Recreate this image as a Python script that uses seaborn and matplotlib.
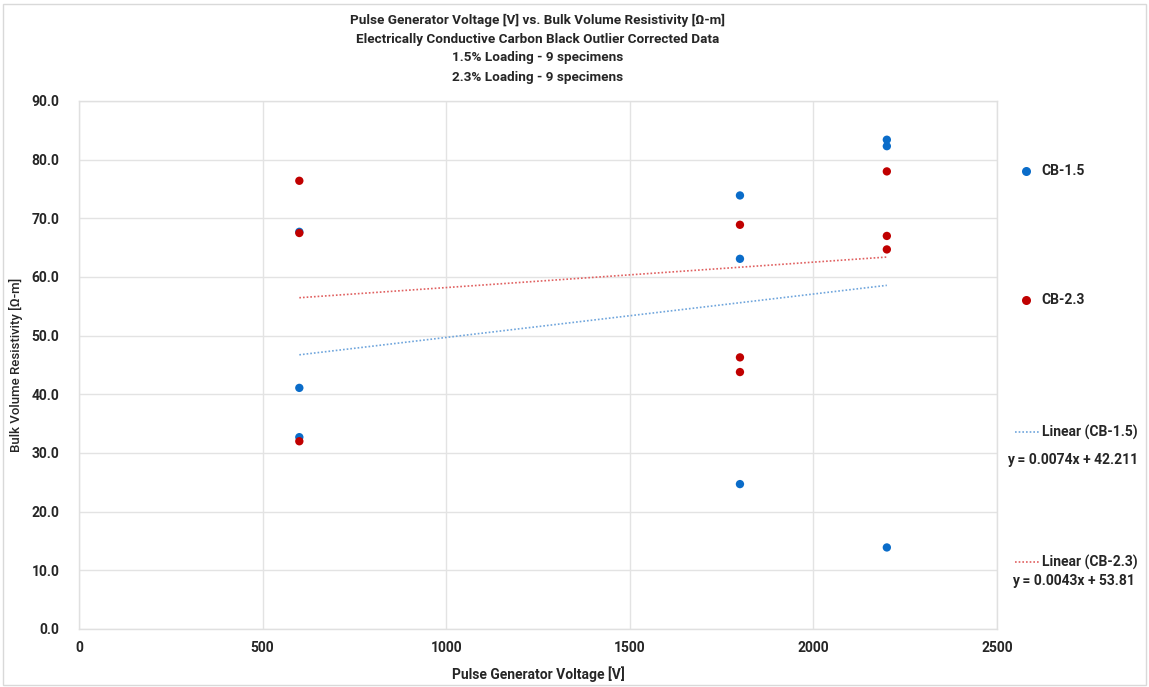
import numpy as np
import pandas as pd
import matplotlib
matplotlib.use("Agg")
import matplotlib.pyplot as plt
from matplotlib.lines import Line2D
from matplotlib.patches import Rectangle
import seaborn as sns

# ---- data ----
voltage_15 = [600, 600, 600, 1800, 1800, 1800, 2200, 2200, 2200]
resist_15 = [67.7, 41.1, 32.7, 73.9, 63.1, 24.7, 83.4, 82.3, 13.9]
voltage_23 = [600, 600, 600, 1800, 1800, 1800, 2200, 2200, 2200]
resist_23 = [76.4, 67.5, 32.0, 68.9, 46.3, 43.8, 78.0, 67.0, 64.7]
series_names = ["CB-1.5", "CB-2.3"]
trend_labels = ["Linear (CB-1.5)", "Linear (CB-2.3)"]
equations = ["y = 0.0074x + 42.211", "y = 0.0043x + 53.81"]
title_lines = [
    "Pulse Generator Voltage [V] vs. Bulk Volume Resistivity [\u03a9-m]",
    "Electrically Conductive Carbon Black Outlier Corrected Data",
    "1.5% Loading - 9 specimens",
    "2.3% Loading - 9 specimens",
]
x_ticks = [0, 500, 1000, 1500, 2000, 2500]
y_ticks = [0, 10, 20, 30, 40, 50, 60, 70, 80, 90]

df = pd.DataFrame({
    "V": voltage_15 + voltage_23,
    "R": resist_15 + resist_23,
    "S": [series_names[0]] * len(voltage_15) + [series_names[1]] * len(voltage_23),
})

# ---- style ----
sns.set_theme(style="white")
plt.rcParams["font.family"] = ["Roboto", "DejaVu Sans"]

marker_colors = {"CB-1.5": "#0A6CC9", "CB-2.3": "#C00000"}
trend_colors = {"CB-1.5": "#6FA5DC", "CB-2.3": "#E06060"}
txt = "#262626"

W, H = 1149, 687
fig = plt.figure(figsize=(W / 100, H / 100), dpi=100)
L, R, T, B = 79, 997, 101, 629
ax = fig.add_axes([L / W, 1 - B / H, (R - L) / W, (B - T) / H])

# trend lines
for name, (xs, ys) in zip(series_names, [(voltage_15, resist_15), (voltage_23, resist_23)]):
    sns.regplot(x=np.array(xs), y=np.array(ys), ax=ax, scatter=False, ci=None,
                truncate=True, line_kws=dict(color=trend_colors[name], lw=1.2,
                                             ls=(0, (1, 1.2))))

sns.scatterplot(data=df, x="V", y="R", hue="S", palette=marker_colors, ax=ax,
                s=36, edgecolor="none", legend=False, zorder=3)

ax.set_xlim(0, 2500)
ax.set_ylim(0, 90)
ax.set_xticks(x_ticks)
ax.set_yticks(y_ticks)
ax.set_xticklabels([str(t) for t in x_ticks], fontsize=10, fontweight="bold", color=txt)
ax.set_yticklabels([f"{t:.1f}" for t in y_ticks], fontsize=10, fontweight="bold", color=txt)
ax.tick_params(axis="both", length=0)
ax.tick_params(axis="x", pad=9)
ax.tick_params(axis="y", pad=14)
ax.grid(True, color="#E3E3E3", lw=1)
for sp in ax.spines.values():
    sp.set_color("#E0E0E0")
    sp.set_linewidth(1)
ax.set_xlabel("Pulse Generator Voltage [V]", fontsize=10, fontweight="bold", color=txt, labelpad=8)
ax.set_ylabel("Bulk Volume Resistivity [\u03a9-m]", fontsize=9.5, fontweight="medium", color=txt, labelpad=6)

# title
cx = (L + R) / 2 / W
for i, line in enumerate(title_lines):
    fig.text(cx, 1 - (20 + 19 * i) / H, line, ha="center", va="center",
             fontsize=9.7, fontweight="bold", color=txt)

# legend (manual)
def fx(px):
    return px / W

def fy(py):
    return 1 - py / H

for name, py in zip(series_names, [171, 300]):
    fig.add_artist(Line2D([fx(1026)], [fy(py)], marker="o", ms=6.5, ls="none",
                          color=marker_colors[name], markeredgewidth=0,
                          transform=fig.transFigure))
    fig.text(fx(1041), fy(py), name, ha="left", va="center", fontsize=10,
             fontweight="bold", color=txt)

for name, lab, eq, py, pye in zip(series_names, trend_labels, equations, [432, 562], [460, 581]):
    fig.add_artist(Line2D([fx(1015), fx(1040)], [fy(py), fy(py)], lw=1.2,
                          ls=(0, (1, 1.2)), color=trend_colors[name],
                          transform=fig.transFigure))
    fig.text(fx(1042), fy(py), lab, ha="left", va="center", fontsize=10,
             fontweight="bold", color=txt)
    fig.text(fx(1073), fy(pye), eq, ha="center", va="center", fontsize=10,
             fontweight="bold", color=txt)

# chart border
fig.add_artist(Rectangle((3 / W, 2 / H), (W - 6) / W, (H - 6) / H, transform=fig.transFigure,
                         fill=False, ec="#D9D9D9", lw=1))

fig.savefig("out.png", dpi=100)
